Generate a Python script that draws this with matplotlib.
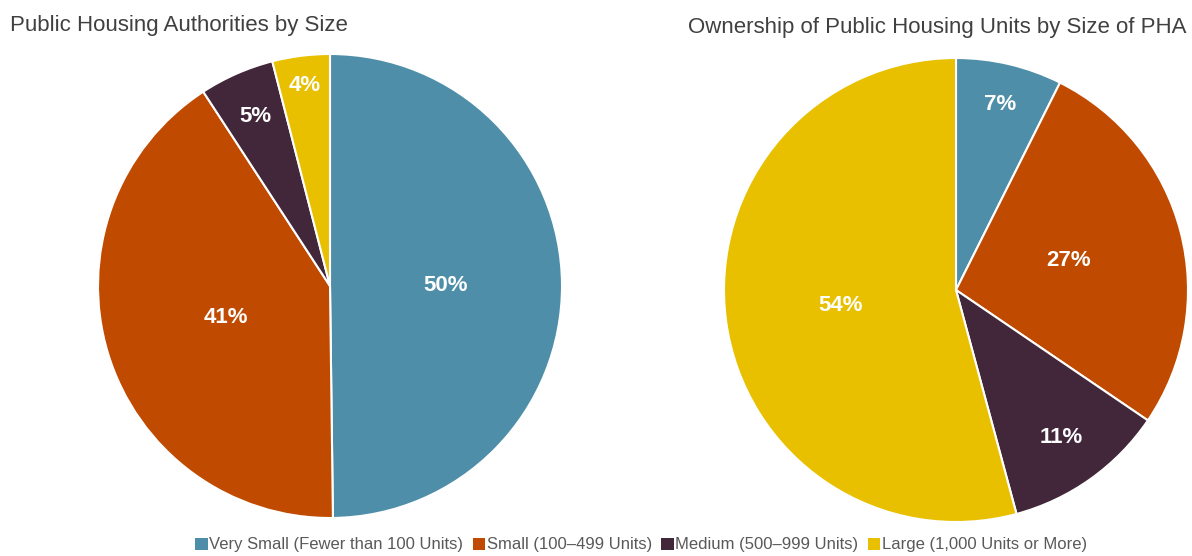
import numpy as np
import matplotlib.pyplot as plt
from matplotlib.patches import Patch

plt.rcParams['font.family'] = ['Liberation Sans', 'DejaVu Sans']

CATEGORIES = ['Very Small (Fewer than 100 Units)', 'Small (100\u2013499 Units)',
              'Medium (500\u2013999 Units)', 'Large (1,000 Units or More)']
COLORS = ['#4E8EA8', '#C04A00', '#42263A', '#E8C000']

PHA_SHARE = [49.8, 41.0, 5.2, 4.0]
PHA_LABELS = ['50%', '41%', '5%', '4%']
UNIT_SHARE = [7.4, 27.1, 11.3, 54.2]
UNIT_LABELS = ['7%', '27%', '11%', '54%']

# radial label distances (fraction of radius), per slice
PHA_LABEL_R = [0.50, 0.47, 0.80, 0.87]
UNIT_LABEL_R = [0.82, 0.50, 0.78, 0.50]

W, H = 1192, 556
fig = plt.figure(figsize=(W / 100, H / 100), dpi=100)


def draw_pie(rect, values, labels, label_r):
    ax = fig.add_axes(rect)
    wedges, _ = ax.pie(values, colors=COLORS, startangle=90, counterclock=False,
                       radius=1.0, wedgeprops=dict(edgecolor='white', linewidth=1.5))
    for w, lab, r in zip(wedges, labels, label_r):
        ang = np.radians((w.theta1 + w.theta2) / 2)
        ax.text(r * np.cos(ang), r * np.sin(ang), lab, ha='center', va='center',
                color='white', fontsize=16, fontweight='bold')
    ax.set_xlim(-1, 1)
    ax.set_ylim(-1, 1)
    ax.set_aspect('equal')
    ax.axis('off')
    return ax


draw_pie([98 / W, (H - 518) / H, 464 / W, 464 / H], PHA_SHARE, PHA_LABELS, PHA_LABEL_R)
draw_pie([724 / W, (H - 522) / H, 464 / W, 464 / H], UNIT_SHARE, UNIT_LABELS, UNIT_LABEL_R)

fig.text(10 / W, 1 - 25 / H, 'Public Housing Authorities by Size', ha='left', va='center',
         fontsize=16, color='#404040')
fig.text(1186 / W, 1 - 27 / H, 'Ownership of Public Housing Units by Size of PHA', ha='right',
         va='center', fontsize=16, color='#404040')

handles = [Patch(facecolor=c, edgecolor='none') for c in COLORS]
fig.legend(handles, CATEGORIES, loc='center', bbox_to_anchor=(641 / W, 1 - 545 / H), ncol=4,
           frameon=False, fontsize=12, handlelength=0.75, handleheight=0.75, handletextpad=0.1,
           columnspacing=0.55, labelcolor='#595959', borderpad=0)

fig.savefig('out.png', dpi=100)
